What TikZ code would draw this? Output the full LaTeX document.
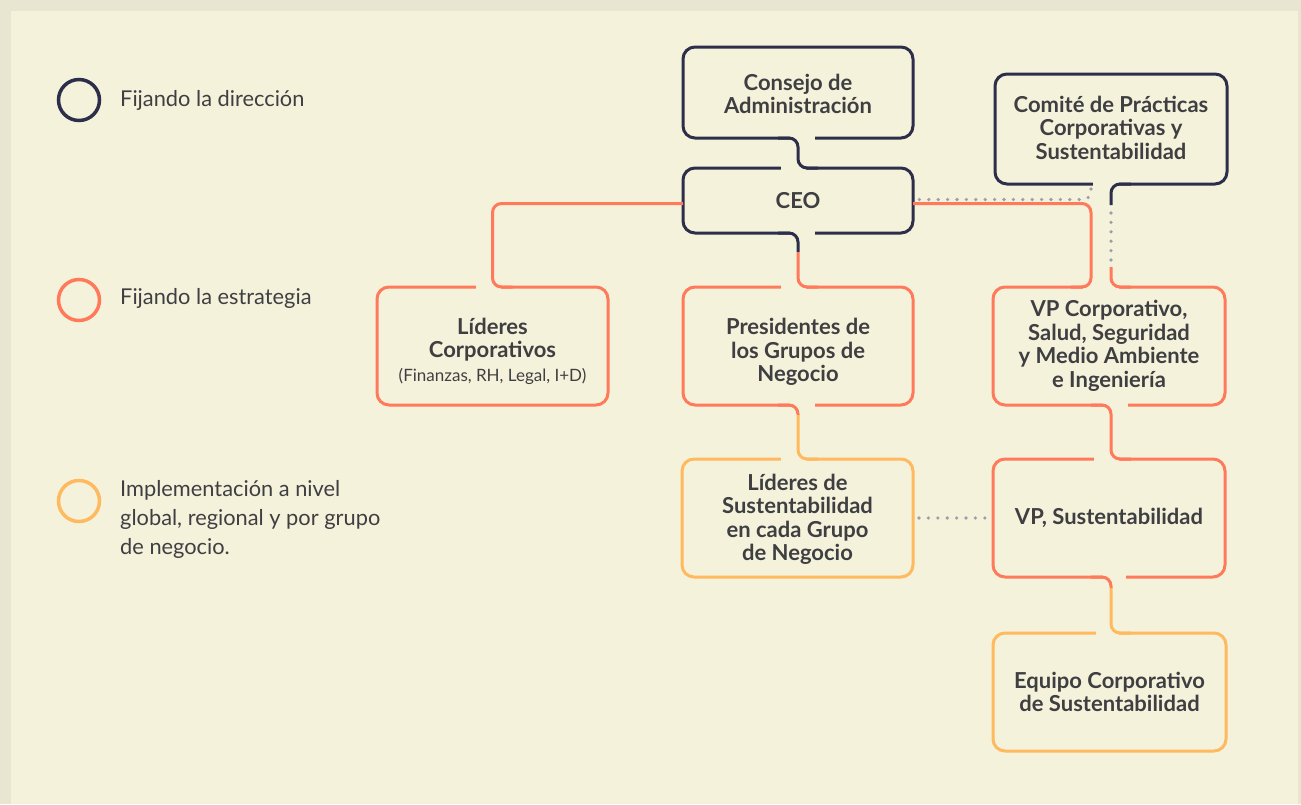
\documentclass[tikz,border=0pt]{standalone}
\usepackage{fontspec}
\setmainfont{Lato}
\usetikzlibrary{calc}
\definecolor{bgouter}{HTML}{E8E5D1}
\definecolor{bginner}{HTML}{F5F2DC}
\definecolor{navy}{HTML}{2C2E4A}
\definecolor{orng}{HTML}{FF7A5A}
\definecolor{ambr}{HTML}{FFB95E}
\definecolor{dotc}{HTML}{9C9EA8}
\definecolor{txt}{HTML}{3F3F42}
\begin{document}
\begin{tikzpicture}[x=1pt,y=-1pt,
  box/.style={draw, rectangle, rounded corners=12pt, line width=3pt, outer sep=0pt, inner sep=0pt, align=center, text=txt, font=\fontsize{22}{23.5}\selectfont\bfseries},
  navybox/.style={box, draw=navy},
  orbox/.style={box, draw=orng},
  ambox/.style={box, draw=ambr},
  boxtext/.style={align=center, text=txt, inner sep=0pt, font=\fontsize{22}{23.5}\selectfont\bfseries},
  cover/.style={draw=bginner, line width=6pt},
  link/.style={line width=3pt, rounded corners=9pt},
  dots/.style={draw=dotc, line width=3.6pt, line cap=round, dash pattern=on 0pt off 9.4pt},
  legc/.style={circle, line width=3.5pt, minimum size=41pt, inner sep=0pt},
  legt/.style={anchor=west, align=left, text=txt, inner sep=0pt, font=\fontsize{21.8}{29}\selectfont}
]
\useasboundingbox (0,0) rectangle (1301,804);
\fill[bgouter] (0,0) rectangle (1301,804);
\fill[bginner] (11,11) rectangle (1298,804);

% legend
\node[legc, draw=navy] (l1) at (79,100) {};
\node[legt] (t1) at (120,100) {Fijando la dirección};
\node[legc, draw=orng] (l2) at (79,300) {};
\node[legt] (t2) at (120,298) {Fijando la estrategia};
\node[legc, draw=ambr] (l3) at (79,501) {};
\node[legt] (t3) at (120,519) {Implementación a nivel\\global, regional y por grupo\\de negocio.};

% boxes
\node[navybox, minimum width=230pt, minimum height=91pt] (cons) at (798,92.5) {};
\node[boxtext] (const) at (798,94) {Consejo de\\Administración};
\node[navybox, minimum width=230pt, minimum height=65pt] (ceo) at (798,200.5) {CEO};
\node[navybox, minimum width=232pt, minimum height=110pt] (com) at (1111,129) {};
\node[boxtext] (comt) at (1111,127.5) {Comité de Prácticas\\Corporativas y\\Sustentabilidad};
\node[orbox, minimum width=231pt, minimum height=118pt] (lc) at (492.5,346) {};
\node[boxtext] (lct) at (492.5,351) {Líderes\\Corporativos\\\fontsize{17}{23.5}\selectfont\mdseries (Finanzas, RH, Legal, I+D)};
\node[orbox, minimum width=230pt, minimum height=118pt] (pres) at (798,346) {};
\node[boxtext] (prest) at (798,352) {Presidentes de\\los Grupos de\\Negocio};
\node[orbox, minimum width=232pt, minimum height=118pt] (vpc) at (1109,346) {VP Corporativo,\\Salud, Seguridad\\y Medio Ambiente\\e Ingeniería};
\node[ambox, minimum width=231pt, minimum height=118pt] (lsus) at (797.5,518) {};
\node[boxtext] (lsust) at (797.5,519.5) {Líderes de\\Sustentabilidad\\en cada Grupo\\de Negocio};
\node[orbox, minimum width=232pt, minimum height=118pt] (vps) at (1109,518) {VP, Sustentabilidad};
\node[ambox, minimum width=233pt, minimum height=118pt] (eq) at (1109.5,692) {Equipo Corporativo\\de Sustentabilidad};

% helper coordinates
\coordinate (ov) at ($(vpc.north)+(-18,0)$);
\coordinate (cv) at (com.south);
\coordinate (dv) at ($(com.south)+(-20,0)$);
\coordinate (vv) at ($(vpc.south)+(2,0)$);
\coordinate (ve) at ($(vps.south)+(2,0)$);
\coordinate (pv) at (pres.south);

% gaps in the borders
\draw[cover] ($(cons.south)+(-8,0)$) -- ($(cons.south)+(17,0)$);
\draw[cover] ($(ceo.north)+(-17,0)$) -- ($(ceo.north)+(8,0)$);
\draw[cover] ($(ceo.south)+(-8,0)$) -- ($(ceo.south)+(17,0)$);
\draw[cover] ($(pres.north)+(-17,0)$) -- ($(pres.north)+(8,0)$);
\draw[cover] ($(pres.south)+(-8,0)$) -- ($(pres.south)+(17,0)$);
\draw[cover] ($(pv |- lsus.north)+(-17,0)$) -- ($(pv |- lsus.north)+(8,0)$);
\draw[cover] ($(lc.north)+(-17,0)$) -- ($(lc.north)+(8,0)$);
\draw[cover] ($(ov)+(-8,0)$) -- ($(cv |- vpc.north)+(8,0)$);
\draw[cover] ($(dv |- com.south)+(1.5,0)$) -- ($(cv)+(8,0)$);
\draw[cover] ($(vv)+(-8,0)$) -- ($(vv)+(17,0)$);
\draw[cover] ($(vv |- vps.north)+(-17,0)$) -- ($(vv |- vps.north)+(8,0)$);
\draw[cover] ($(ve)+(-8,0)$) -- ($(ve)+(15,0)$);
\draw[cover] ($(ve |- eq.north)+(-15,0)$) -- ($(ve |- eq.north)+(8,0)$);

% connectors
\draw[link, navy] ($(cons.south)+(-20,0)$) -- (cons.south) -- (cons.south |- ceo.north) -- ($(cons.south |- ceo.north)+(20,0)$);

\draw[link, navy] ($(ceo.south)+(-20,0)$) -- (ceo.south) -- ($(ceo.south)+(0,19)$);
\draw[link, orng] ($(ceo.south)+(0,19)$) -- (ceo.south |- pres.north) -- ($(ceo.south |- pres.north)+(20,0)$);

\draw[link, orng] ($(pv)+(-20,0)$) -- (pv) -- ($(pv)+(0,10)$);
\draw[link, ambr] ($(pv)+(0,10)$) -- (pv |- lsus.north) -- ($(pv |- lsus.north)+(20,0)$);

\draw[link, orng] ($(ceo.west)+(0,3)$) -- ($(ceo.west -| lc.north)+(0,3)$) -- (lc.north) -- ($(lc.north)+(20,0)$);

\draw[link, orng] ($(ceo.east)+(0,3)$) -- ($(ceo.east -| ov)+(0,3)$) -- (ov) -- ($(ov)+(-20,0)$);

\draw[link, navy] ($(cv)+(20,0)$) -- (cv) -- ($(cv)+(0,21)$);
\draw[dots] ($(cv)+(0,29)$) -- ($(cv)+(0,78)$);
\draw[link, orng] ($(cv)+(0,83)$) -- (cv |- vpc.north) -- ($(cv |- vpc.north)+(20,0)$);

\draw[dots, rounded corners=8pt] ($(dv)+(0,5)$) -- ($(dv |- ceo.east)+(0,-1)$) -- ($(ceo.east)+(4,-1)$);

\draw[link, orng] ($(vv)+(-20,0)$) -- (vv) -- (vv |- vps.north) -- ($(vv |- vps.north)+(20,0)$);

\draw[link, orng] ($(ve)+(-20,0)$) -- (ve) -- ($(ve)+(0,11)$);
\draw[link, ambr] ($(ve)+(0,11)$) -- (ve |- eq.north) -- ($(ve |- eq.north)+(20,0)$);

\draw[dots] ($(lsus.east)+(6,0)$) -- ($(vps.west)+(-3,0)$);
\end{tikzpicture}
\end{document}
